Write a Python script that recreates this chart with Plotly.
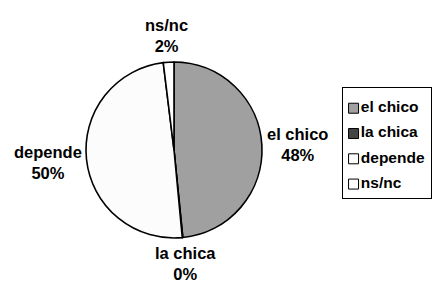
import math
import plotly.graph_objects as go

labels = ["el chico", "la chica", "depende", "ns/nc"]
values = [48.4, 0.1, 49.55, 1.95]
colors = ["#A0A0A0", "#444444", "#FCFCFC", "#FFFFFF"]

W, H = 433, 287
FONT = "Liberation Sans, Arial, sans-serif"
LABEL_SIZE = 16.5
LEGEND_SIZE = 15.5

# Arial Bold advance widths (per 1000 em) used to size the outside labels
ARIAL_BOLD = {" ": 278, "%": 889, "/": 278, "a": 556, "c": 556, "d": 611, "e": 556,
              "h": 611, "i": 278, "l": 278, "n": 611, "o": 611, "p": 611, "s": 556}


def text_width(s, size):
    return sum(ARIAL_BOLD.get(ch, 556) for ch in s) / 1000 * size


# pie placement (paper fractions)
pie_x = [86 / W, 262 / W]
pie_y = [(H - 238) / H, (H - 62) / H]

fig = go.Figure()
fig.add_trace(go.Pie(
    labels=labels,
    values=values,
    sort=False,
    direction="clockwise",
    rotation=0,
    marker=dict(colors=colors, line=dict(color="#000000", width=1.6)),
    textinfo="none",
    hoverinfo="label+percent",
    domain=dict(x=pie_x, y=pie_y),
    showlegend=False,
))

# outside labels placed just beyond the rim at each slice's mid-angle
total = sum(values)
cx_px = (pie_x[0] + pie_x[1]) / 2 * W
cy_px = (pie_y[0] + pie_y[1]) / 2 * H
radius_px = (pie_x[1] - pie_x[0]) * W / 2
gap = 5
cum = 0.0
for lab, v in zip(labels, values):
    mid = (cum + v / 2) / total * 2 * math.pi
    cum += v
    pct = f"{round(v / total * 100)}%"
    hw = max(text_width(lab, LABEL_SIZE), text_width(pct, LABEL_SIZE)) / 2
    hh = LABEL_SIZE * 1.3
    s, c = math.sin(mid), math.cos(mid)
    px = cx_px + (radius_px + gap) * s + hw * s
    py = cy_px + (radius_px + gap) * c + hh * c
    fig.add_annotation(
        x=px / W, y=py / H, xref="paper", yref="paper",
        text=f"{lab}<br>{pct}",
        showarrow=False, xanchor="center", yanchor="middle",
        font=dict(family=FONT, size=LABEL_SIZE, color="#000000", weight="bold"),
    )

# legend drawn as a small boxed panel
idx = list(range(len(labels)))
fig.add_trace(go.Scatter(
    x=[0] * len(labels), y=idx,
    mode="markers+text",
    marker=dict(symbol="square", size=10, color=colors,
                line=dict(color="#000000", width=1)),
    text=labels, textposition="middle right",
    textfont=dict(family=FONT, size=LEGEND_SIZE, color="#000000", weight="bold"),
    xaxis="x2", yaxis="y2", showlegend=False, hoverinfo="skip",
    cliponaxis=False,
))

axis_common = dict(showgrid=False, zeroline=False, showticklabels=False, ticks="",
                   showline=True, mirror=True, linecolor="#000000", linewidth=1,
                   fixedrange=True)
fig.update_layout(
    width=W, height=H,
    margin=dict(l=0, r=0, t=0, b=0),
    paper_bgcolor="#FFFFFF",
    plot_bgcolor="#FFFFFF",
    font=dict(family=FONT, size=13, color="#000000"),
    showlegend=False,
    xaxis2=dict(domain=[343 / W, 431 / W], range=[-0.12, 0.88], anchor="y2", **axis_common),
    yaxis2=dict(domain=[(H - 198) / H, (H - 88) / H], range=[3.55, -0.8], anchor="x2", **axis_common),
)

fig.write_html(
    "out.html",
    config={"displayModeBar": False},
    post_script="document.body.style.margin='0';document.body.style.overflow='hidden';",
)
